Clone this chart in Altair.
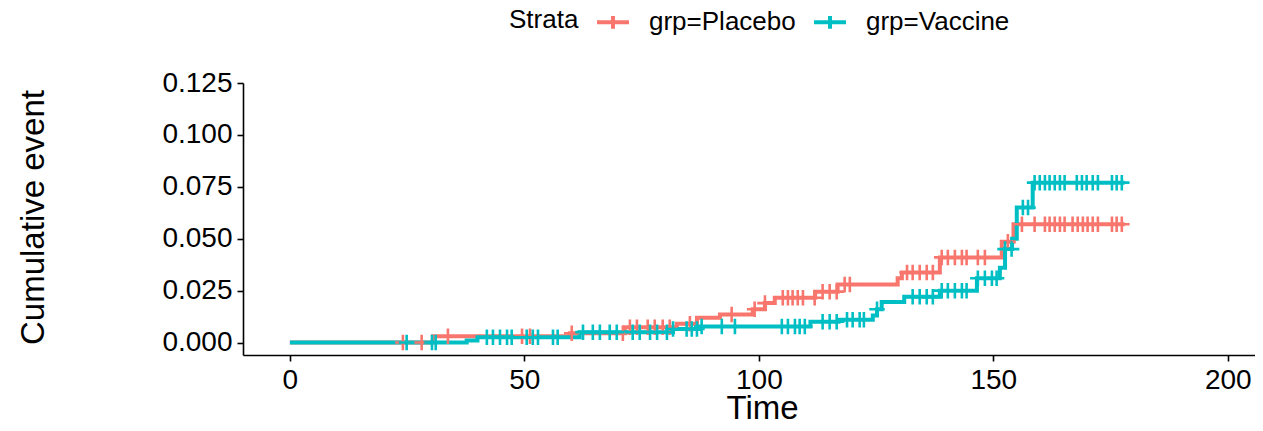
import altair as alt
import pandas as pd
import numpy as np

groups = ["grp=Placebo", "grp=Vaccine"]
colors = ["#F8766D", "#00BFC4"]
end_time = 178.0

# Step (event) times and cumulative event values
placebo_step_time = [0, 30.5, 59.7, 71.4, 82.5, 86.8, 91.7, 98.7, 101.3, 103.4, 112.0,
                     116.8, 129.6, 130.5, 138.6, 151.8, 154.3]
placebo_step_cum = [0, 0.003, 0.0045, 0.0074, 0.009, 0.012, 0.0135, 0.016, 0.019, 0.0216,
                    0.0245, 0.028, 0.031, 0.0337, 0.041, 0.0486, 0.057]

vaccine_step_time = [0, 37.7, 40.0, 61.8, 81.7, 87.4, 111.0, 117.0, 124.3, 125.2, 126.2,
                     131.0, 138.6, 146.5, 151.4, 152.5, 154.0, 155.0, 158.4]
vaccine_step_cum = [0, 0.001, 0.0025, 0.005, 0.0065, 0.0077, 0.01, 0.011, 0.013, 0.016,
                    0.0195, 0.022, 0.025, 0.031, 0.036, 0.045, 0.05, 0.065, 0.077]

# Censoring times
placebo_censor = [24.1, 28.1, 33.7, 49.5, 51.2, 60.1, 71.0, 72.5, 74.0, 76.3, 77.8, 79.5,
                  81.0, 85.3, 94.2, 99.1, 101.3, 105.1, 106.2, 107.2, 108.3, 109.4, 111.9,
                  113.6, 115.1, 116.6, 118.3, 119.4, 131.6, 132.8, 134.3, 135.8, 137.1,
                  139.0, 140.3, 141.8, 143.3, 144.3, 146.7, 148.2, 153.1, 156.1, 158.8,
                  161.0, 162.0, 163.1, 164.2, 165.2, 166.9, 168.0, 169.1, 170.1, 171.2,
                  172.3, 175.3, 176.3, 177.4]
vaccine_censor = [24.9, 30.3, 31.1, 42.0, 43.3, 44.8, 46.3, 47.3, 50.5, 51.8, 52.9, 56.1,
                  57.1, 62.5, 64.6, 66.1, 68.2, 69.7, 73.1, 74.6, 76.8, 78.3, 80.4, 81.7,
                  84.6, 85.7, 86.8, 87.8, 92.1, 94.9, 104.9, 106.2, 107.7, 108.7, 109.8,
                  113.6, 115.1, 116.6, 118.8, 120.0, 121.5, 122.4, 125.2, 132.8, 134.3,
                  135.8, 137.1, 139.0, 140.3, 141.8, 143.3, 144.3, 146.7, 148.2, 149.7,
                  150.7, 152.5, 153.9, 156.3, 157.4, 158.8, 159.9, 161.0, 162.0, 163.1,
                  164.2, 165.2, 167.8, 168.9, 169.9, 171.2, 172.3, 175.3, 176.3, 177.4]

x_ticks = [0, 50, 100, 150, 200]
y_ticks = [0, 0.025, 0.05, 0.075, 0.1, 0.125]


def step_rows(name, times, cums):
    rows = [{"strata": name, "time": t, "cum": c} for t, c in zip(times, cums)]
    rows.append({"strata": name, "time": end_time, "cum": cums[-1]})
    return rows


def censor_rows(name, times, step_t, step_c):
    idx = np.searchsorted(np.array(step_t), np.array(times), side="right") - 1
    return [{"strata": name, "time": t, "cum": step_c[i]} for t, i in zip(times, idx)]


lines = pd.DataFrame(step_rows(groups[0], placebo_step_time, placebo_step_cum)
                     + step_rows(groups[1], vaccine_step_time, vaccine_step_cum))
censors = pd.DataFrame(censor_rows(groups[0], placebo_censor, placebo_step_time, placebo_step_cum)
                       + censor_rows(groups[1], vaccine_censor, vaccine_step_time, vaccine_step_cum))

xscale = alt.Scale(domain=[-10, 205.8], nice=False, zero=False)
yscale = alt.Scale(domain=[-0.006, 0.125], nice=False, zero=False)
cscale = alt.Scale(domain=groups, range=colors)

x_axis = alt.Axis(values=x_ticks, title="Time", titleX=519, titleY=63,
                  titleBaseline="alphabetic", format="d")
y_axis = alt.Axis(values=y_ticks, title="Cumulative event", format=".3f",
                  titleX=-193, titleY=134)

line_layer = alt.Chart(lines).mark_line(interpolate="step-after", strokeWidth=4).encode(
    x=alt.X("time:Q", scale=xscale, axis=x_axis),
    y=alt.Y("cum:Q", scale=yscale, axis=y_axis),
    color=alt.Color("strata:N", scale=cscale, title="Strata",
                    legend=alt.Legend(orient="none", legendX=266, legendY=-79,
                                      direction="horizontal", titleOrient="left",
                                      symbolType="M-1,0L1,0M0,-0.4L0,0.4",
                                      symbolSize=1024, symbolStrokeWidth=4,
                                      labelOffset=18, columnPadding=10,
                                      titlePadding=16)),
    detail="strata:N",
)

censor_layer = alt.Chart(censors).mark_point(
    shape="M-1,0L1,0M0,-1L0,1", size=240, strokeWidth=2.6, filled=False, opacity=1
).encode(
    x=alt.X("time:Q", scale=xscale),
    y=alt.Y("cum:Q", scale=yscale),
    color=alt.Color("strata:N", scale=cscale, legend=None),
)

chart = alt.layer(line_layer, censor_layer).properties(
    width=1012, height=272,
    autosize=alt.AutoSizeParams(type="none"),
    padding={"left": 235, "top": 75, "right": 0, "bottom": 68},
).configure_view(stroke=None).configure_axis(
    grid=False, domainColor="black", domainWidth=1.6, tickColor="black", tickWidth=1.6,
    tickSize=6, labelFont="Liberation Sans", labelFontSize=28, labelColor="black",
    labelPadding=5, titleFont="Liberation Sans", titleFontSize=33, titleFontWeight="normal",
    titleColor="black",
).configure_legend(
    labelFont="Liberation Sans", labelFontSize=26, labelColor="black",
    titleFont="Liberation Sans", titleFontSize=26, titleFontWeight="normal", titleColor="black",
)

chart.save("out.html", embed_options={"renderer": "svg", "actions": False})
